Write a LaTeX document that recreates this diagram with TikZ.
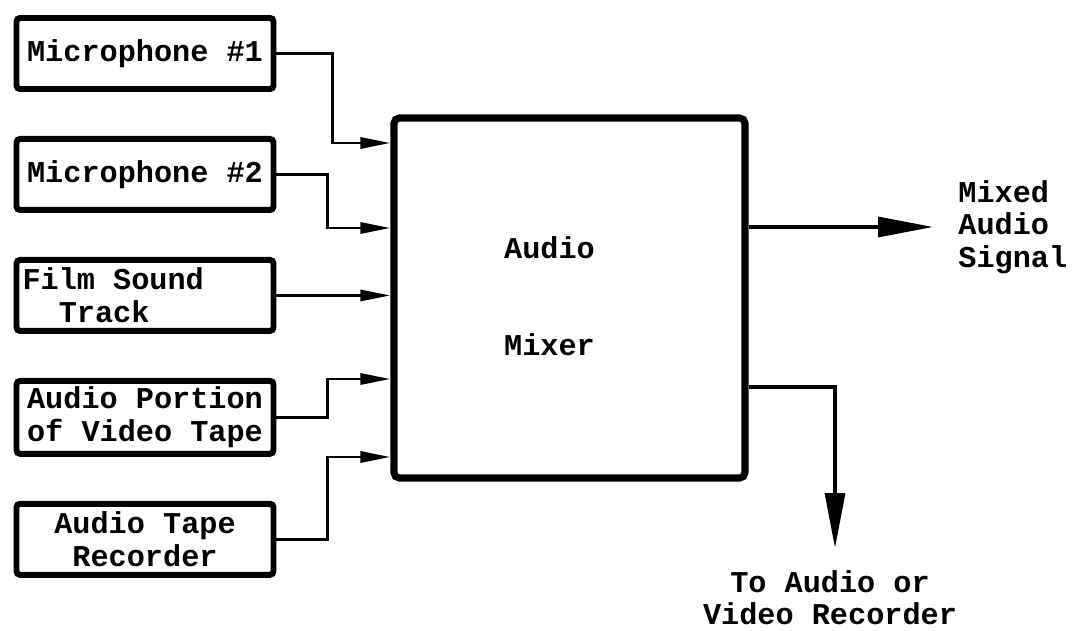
\documentclass[tikz,border=0pt]{standalone}
\usepackage{fontspec}
\setmonofont{Liberation Mono}
\usepackage{tikz}
\usetikzlibrary{positioning,arrows.meta}
\newcommand{\amfont}{\ttfamily\bfseries\fontsize{17.2pt}{18.6pt}\selectfont}
\tikzset{
  am-box/.style={
    draw=black, line width=3.4pt, rounded corners=2pt,
    fill=white, font=\amfont, align=center,
    inner sep=0.12cm, minimum width=5.14cm, minimum height=1.42cm
  },
  am-mix/.style={draw=black, line width=4pt, rounded corners=3pt,
    minimum width=7.02cm, minimum height=7.2cm},
  am-in/.style={-{Triangle[length=0.6cm, width=0.22cm]}, line width=1.7pt},
  am-out/.style={-{Triangle[length=1.1cm, width=0.4cm]}, line width=1.9pt},
  am-lbl/.style={font=\amfont, inner sep=0.1cm},
  am-title/.style={font=\amfont, inner sep=0pt}
}
\begin{document}
\begin{tikzpicture}[node distance=0.88cm]
\useasboundingbox (0,0) rectangle (21.48,-12.62);
% Sources
\node[am-box] (mic1) at (2.9,-1.07) {Microphone \#1};
\node[am-box, below=of mic1] (mic2) {Microphone \#2};
\node[am-box, below=of mic2, text width=4.9cm, align=flush left] (film) {Film Sound\\\hspace*{1.2em}Track};
\node[am-box, below=of film] (vtape) {Audio Portion\\of Video Tape};
\node[am-box, below=of vtape] (atape) {Audio Tape\\Recorder};
% Mixer
\node[am-mix] (mixer) at (11.39,-5.96) {};
\node[am-title] (mixA) at ([shift={(-0.4cm,1.0cm)}]mixer.center) {Audio};
\node[am-title] (mixB) at ([shift={(-0.4cm,-0.94cm)}]mixer.center) {Mixer};
% Inputs
\coordinate (in1) at ([yshift=3.1cm]mixer.west);
\coordinate (in2) at ([yshift=1.4cm]mixer.west);
\coordinate (in4) at ([yshift=-1.62cm]mixer.west);
\coordinate (in5) at ([yshift=-3.18cm]mixer.west);
\draw[am-in] (mic1.east) -| ([xshift=-1.15cm]in1) -- (in1);
\draw[am-in] (mic2.east) -| ([xshift=-1.25cm]in2) -- (in2);
\draw[am-in] (film.east) -- (film.east -| mixer.west);
\draw[am-in] (vtape.east) -| ([xshift=-1.25cm]in4) -- (in4);
\draw[am-in] (atape.east) -| ([xshift=-1.25cm]in5) -- (in5);
% Outputs
\node[am-lbl, anchor=west, align=left] (sig) at (19.06,-4.54) {Mixed\\Audio\\Signal};
\node[am-lbl, anchor=north, align=center] (rec) at (16.6,-11.3) {To Audio or\\Video Recorder};
\coordinate (out1) at ([yshift=1.42cm]mixer.east);
\coordinate (out2) at ([yshift=-1.78cm]mixer.east);
\draw[am-out, shorten >=0.4cm] (out1) -- (out1 -| sig.west);
\draw[am-out, shorten >=0.34cm] (out2) -| ([xshift=0.1cm]rec.north);
\end{tikzpicture}
\end{document}
